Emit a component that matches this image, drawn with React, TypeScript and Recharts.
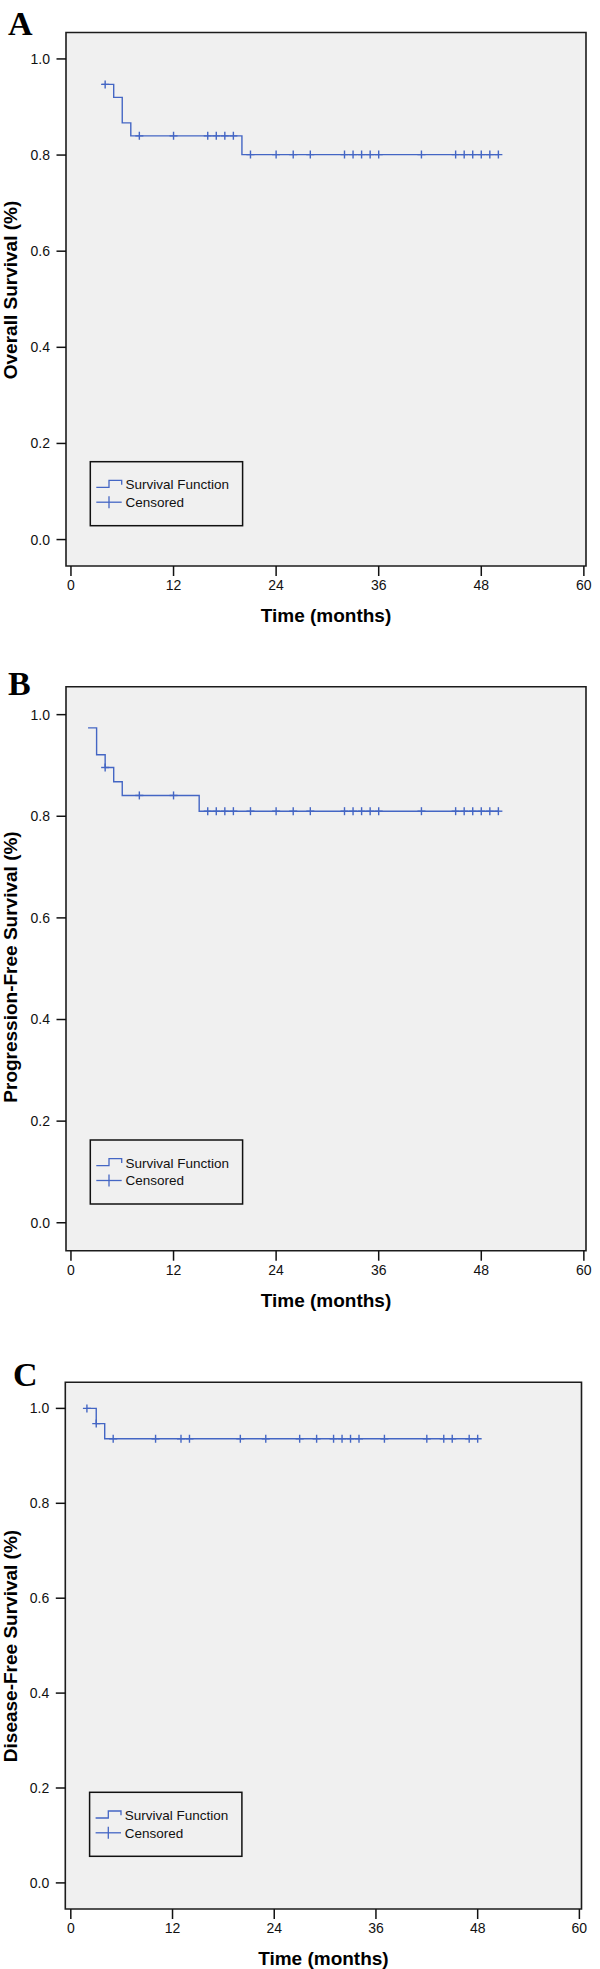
import React from "react";
import { ComposedChart, Line, Scatter, XAxis, YAxis, ReferenceArea } from "recharts";

const FONT = '"Liberation Sans", Arial, sans-serif';
const SERIF = '"Liberation Serif", "Times New Roman", serif';
const BLUE = "#4466c4";
const INK = "#111";
const Y_DOMAIN: [number, number] = [-0.055, 1.055];

const monthTicks = [0, 12, 24, 36, 48, 60];
const survivalTicks = [0, 0.2, 0.4, 0.6, 0.8, 1.0];

// A - overall survival (step starts, survival after each step)
const osTimes = [3.6, 5, 6, 7, 20, 50];
const osSurv = [0.947, 0.92, 0.867, 0.84, 0.801, 0.801];
const osCensored = [4, 8, 12, 16, 17, 18, 19, 21, 24, 26, 28, 32, 33, 34, 35, 36, 41, 45, 46, 47, 48, 49, 50];

// B - progression-free survival
const pfsTimes = [2, 3, 4, 5, 6, 15, 50];
const pfsSurv = [0.974, 0.921, 0.896, 0.868, 0.841, 0.81, 0.81];
const pfsCensored = [4, 8, 12, 16, 17, 18, 19, 21, 24, 26, 28, 32, 33, 34, 35, 36, 41, 45, 46, 47, 48, 49, 50];

// C - disease-free survival
const dfsTimes = [1.9, 3, 4, 48];
const dfsSurv = [1.0, 0.968, 0.936, 0.936];
const dfsCensored = [1.9, 3, 5, 10, 13, 14, 20, 23, 27, 29, 31, 32, 33, 34, 37, 42, 44, 45, 47, 48];

// survival level of the step curve at time t
function levelAt(times: number[], surv: number[], t: number) {
  let s = surv[0];
  times.forEach((tt, i) => {
    if (t >= tt - 1e-9) s = surv[i];
  });
  return s;
}

function CensorMark(props: any) {
  const { cx, cy } = props;
  if (cx == null || cy == null) return null;
  return (
    <g stroke={BLUE} strokeWidth={1.4}>
      <line x1={cx - 4} x2={cx + 4} y1={cy} y2={cy} />
      <line x1={cx} x2={cx} y1={cy - 4} y2={cy + 4} />
    </g>
  );
}

type PanelProps = {
  top: number;
  height: number;
  frameLeft: number;
  frameRight: number;
  frameTop: number;
  frameBottom: number;
  xDomain: [number, number];
  times: number[];
  surv: number[];
  censored: number[];
  letter: string;
  letterX: number;
  letterY: number;
  yTitle: string;
  yTitleY: number;
  legendX: number;
  legendY: number;
};

function KmPanel(p: PanelProps) {
  const data = p.times.map((t, i) => ({ t, s: p.surv[i] }));
  const marks = p.censored.map((t) => ({ t, s: levelAt(p.times, p.surv, t) }));
  const plotTop = p.frameTop - p.top;
  const plotBottom = p.frameBottom - p.top;
  const xAxisHeight = p.height - plotBottom;
  const lx = p.legendX;
  const ly = p.legendY - p.top;
  const r1 = ly + 23;
  const r2 = ly + 40.5;

  return (
    <div style={{ position: "absolute", left: 0, top: p.top, width: 600, height: p.height }}>
      <ComposedChart
        width={600}
        height={p.height}
        margin={{ top: plotTop, right: 600 - p.frameRight, bottom: 0, left: 0 }}
      >
        <XAxis
          type="number"
          dataKey="t"
          domain={p.xDomain}
          ticks={monthTicks}
          interval={0}
          allowDataOverflow
          height={xAxisHeight}
          axisLine={false}
          stroke={INK}
          tickSize={10}
          tickMargin={4}
          tickLine={{ stroke: INK, strokeWidth: 1.5 }}
          tick={{ fill: INK, fontSize: 14, fontFamily: FONT }}
          label={{
            value: "Time (months)",
            position: "insideBottom",
            offset: xAxisHeight - 56,
            fontSize: 19,
            fontWeight: 700,
            fill: "#000",
            fontFamily: FONT,
          }}
        />
        <YAxis
          type="number"
          domain={Y_DOMAIN}
          ticks={survivalTicks}
          interval={0}
          allowDataOverflow
          width={p.frameLeft}
          axisLine={false}
          stroke={INK}
          tickSize={9.5}
          tickMargin={6.5}
          tickLine={{ stroke: INK, strokeWidth: 1.5 }}
          tick={{ fill: INK, fontSize: 14, fontFamily: FONT }}
          tickFormatter={(v: number) => v.toFixed(1)}
        />
        <ReferenceArea
          x1={p.xDomain[0]}
          x2={p.xDomain[1]}
          y1={Y_DOMAIN[0]}
          y2={Y_DOMAIN[1]}
          fill="#f0f0f0"
          fillOpacity={1}
          stroke="#1c1c1c"
          strokeWidth={1.6}
        />
        <Line
          data={data}
          dataKey="s"
          type="stepAfter"
          stroke={BLUE}
          strokeWidth={1.4}
          dot={false}
          activeDot={false}
          isAnimationActive={false}
        />
        <Scatter data={marks} dataKey="s" shape={CensorMark} isAnimationActive={false} />
      </ComposedChart>

      <svg
        width={600}
        height={p.height}
        style={{ position: "absolute", left: 0, top: 0, pointerEvents: "none" }}
      >
        <text x={p.letterX} y={p.letterY - p.top} fontFamily={SERIF} fontWeight={700} fontSize={34} fill="#000">
          {p.letter}
        </text>
        <text
          x={16.5}
          y={p.yTitleY - p.top}
          transform={`rotate(-90 16.5 ${p.yTitleY - p.top})`}
          textAnchor="middle"
          fontFamily={FONT}
          fontWeight={700}
          fontSize={19}
          fill="#000"
        >
          {p.yTitle}
        </text>
        <rect x={lx} y={ly} width={152.3} height={64} fill="none" stroke={INK} strokeWidth={1.5} />
        <path
          d={`M${lx + 6} ${r1 + 2.7} H${lx + 18.7} V${r1 - 4.3} H${lx + 31.4} V${r1}`}
          fill="none"
          stroke={BLUE}
          strokeWidth={1.3}
        />
        <line x1={lx + 6} x2={lx + 31.4} y1={r2} y2={r2} stroke={BLUE} strokeWidth={1.3} />
        <line x1={lx + 18.7} x2={lx + 18.7} y1={r2 - 6} y2={r2 + 6} stroke={BLUE} strokeWidth={1.3} />
        <text x={lx + 35.2} y={r1} dy="0.35em" fontFamily={FONT} fontSize={13.5} fill={INK}>
          Survival Function
        </text>
        <text x={lx + 35.2} y={r2} dy="0.35em" fontFamily={FONT} fontSize={13.5} fill={INK}>
          Censored
        </text>
      </svg>
    </div>
  );
}

export default function App() {
  return (
    <div style={{ position: "absolute", left: 0, top: 0, width: 600, height: 1969, background: "#fff" }}>
      <KmPanel
        top={0}
        height={650}
        frameLeft={66}
        frameRight={586}
        frameTop={32.5}
        frameBottom={566}
        xDomain={[-0.58, 60.25]}
        times={osTimes}
        surv={osSurv}
        censored={osCensored}
        letter="A"
        letterX={8}
        letterY={34.5}
        yTitle="Overall Survival (%)"
        yTitleY={290}
        legendX={90.3}
        legendY={461.7}
      />
      <KmPanel
        top={650}
        height={670}
        frameLeft={66}
        frameRight={586}
        frameTop={686.7}
        frameBottom={1250.7}
        xDomain={[-0.58, 60.25]}
        times={pfsTimes}
        surv={pfsSurv}
        censored={pfsCensored}
        letter="B"
        letterX={8}
        letterY={695}
        yTitle="Progression-Free Survival (%)"
        yTitleY={967}
        legendX={90.3}
        legendY={1140}
      />
      <KmPanel
        top={1320}
        height={649}
        frameLeft={65.3}
        frameRight={581.5}
        frameTop={1382.3}
        frameBottom={1909}
        xDomain={[-0.65, 60.25]}
        times={dfsTimes}
        surv={dfsSurv}
        censored={dfsCensored}
        letter="C"
        letterX={13}
        letterY={1386}
        yTitle="Disease-Free Survival (%)"
        yTitleY={1646}
        legendX={89.6}
        legendY={1792.3}
      />
    </div>
  );
}
